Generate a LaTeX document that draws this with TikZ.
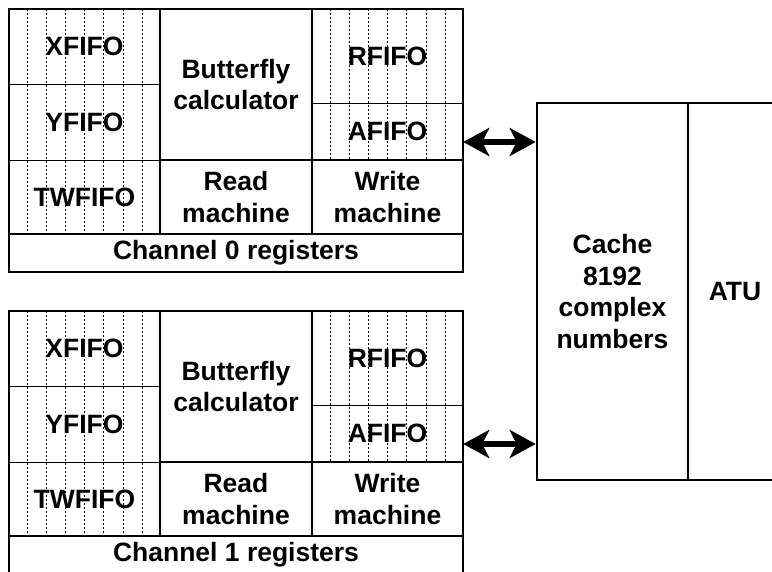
\documentclass[tikz,border=0pt]{standalone}
\usepackage{fontspec}
\setmainfont{Liberation Sans}
\usetikzlibrary{arrows.meta}
\begin{document}
\begin{tikzpicture}[x=1pt,y=-1pt,
  thickline/.style={line width=2.6pt},
  thinline/.style={line width=1pt},
  dotline/.style={line width=1pt, dash pattern=on 2pt off 2pt},
  lbl/.style={font=\fontsize{26.5}{31.5}\selectfont\bfseries, align=center, inner sep=0pt},
  arr/.style={line width=5.5pt, {Stealth[length=26pt,width=28pt,inset=7pt]}-{Stealth[length=26pt,width=28pt,inset=7pt]}}]
\useasboundingbox (0,0) rectangle (772,571);
\clip (0,0) rectangle (772,571);
% cache and ATU
\node[lbl, draw, thickline, minimum width=151pt, minimum height=377pt] (cache) at (612.5,291.5) {Cache\\8192\\complex\\numbers};
\node[lbl, draw, thickline, minimum width=94pt, minimum height=377pt] (atu) at (735,291.5) {ATU};
\foreach \ch/\off in {0/0,1/302}{
  % dotted FIFO lines
  \foreach \k in {0,...,6}{
    \draw[dotline] (27+19.2*\k,\off+9) -- (27+19.2*\k,\off+234);
    \draw[dotline] (330+19.2*\k,\off+9) -- (330+19.2*\k,\off+160);
  }
  % thin dividers
  \draw[thinline] (9,\off+84) -- (160,\off+84);
  \draw[thinline] (9,\off+160) -- (160,\off+160);
  \draw[thinline] (312,\off+103) -- (463,\off+103);
  % thick lines
  \draw[thickline] (9,\off+9) rectangle (463,\off+272);
  \draw[thickline] (160,\off+9) -- (160,\off+234);
  \draw[thickline] (312,\off+9) -- (312,\off+234);
  \draw[thickline] (160,\off+160) -- (463,\off+160);
  \draw[thickline] (9,\off+234) -- (463,\off+234);
  % labels
  \node[lbl, minimum width=151pt, minimum height=75pt] (xf\ch) at (84.5,\off+46.5) {XFIFO};
  \node[lbl, minimum width=151pt, minimum height=76pt] (yf\ch) at (84.5,\off+122) {YFIFO};
  \node[lbl, minimum width=151pt, minimum height=74pt] (tw\ch) at (84.5,\off+197) {TWFIFO};
  \node[lbl, minimum width=152pt, minimum height=151pt] (bf\ch) at (236,\off+84.5) {Butterfly\\calculator};
  \node[lbl, minimum width=152pt, minimum height=74pt] (rm\ch) at (236,\off+197) {Read\\machine};
  \node[lbl, minimum width=151pt, minimum height=94pt] (rf\ch) at (387.5,\off+56) {RFIFO};
  \node[lbl, minimum width=151pt, minimum height=57pt] (af\ch) at (387.5,\off+131.5) {AFIFO};
  \node[lbl, minimum width=151pt, minimum height=74pt] (wm\ch) at (387.5,\off+197) {Write\\machine};
  \node[lbl, minimum width=454pt, minimum height=38pt] (reg\ch) at (236,\off+253) {Channel \ch{} registers};
  % connector to cache
  \coordinate (p\ch) at ([yshift=-10.5pt]af\ch.east);
  \draw[arr] (p\ch) -- (p\ch -| cache.west);
}
\end{tikzpicture}
\end{document}
